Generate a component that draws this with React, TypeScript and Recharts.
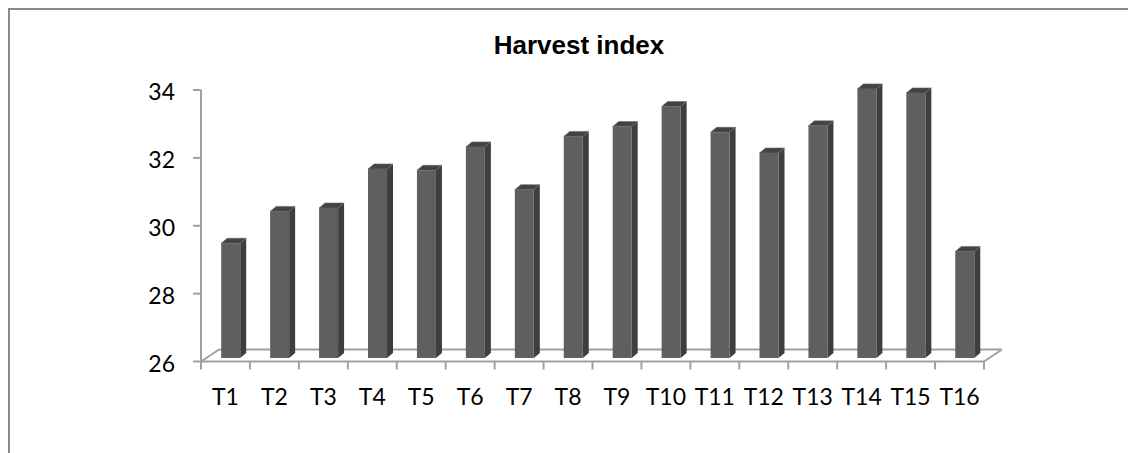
import { BarChart, Bar, XAxis, YAxis } from "recharts";

const categories = ["T1", "T2", "T3", "T4", "T5", "T6", "T7", "T8", "T9", "T10", "T11", "T12", "T13", "T14", "T15", "T16"];
const harvestIndex = [29.38, 30.32, 30.42, 31.57, 31.53, 32.22, 30.96, 32.53, 32.82, 33.41, 32.65, 32.04, 32.84, 33.93, 33.81, 29.14];
const yTicks = [26, 28, 30, 32, 34];

const data = categories.map((name, i) => ({ name, value: harvestIndex[i] }));

const W = 1128;
const H = 445;
// plot box inside the chart svg
const L = 193;
const R = 976;
const T = 82;
const B = 353.5;
const BAND = (R - L) / categories.length;

const AXIS_GREY = "#a0a0a0";
const FONT = "Lato, 'Open Sans', sans-serif";

// fake 3d column: front, right side, top
function Column3D(props: any) {
  const { x, y, width, height } = props;
  if (height == null || height <= 0) return null;
  const fx = x + 5.2;
  const fy = y - 3.5;
  const dx = 6;
  const dy = -5;
  return (
    <g>
      <polygon
        points={`${fx + width},${fy} ${fx + width + dx},${fy + dy} ${fx + width + dx},${fy + height + dy} ${fx + width},${fy + height}`}
        fill="#3e3e3e"
      />
      <polygon
        points={`${fx},${fy} ${fx + dx},${fy + dy} ${fx + width + dx},${fy + dy} ${fx + width},${fy}`}
        fill="#434343"
        stroke="#6a6a6a"
        strokeWidth={0.6}
      />
      <rect x={fx} y={fy} width={width} height={height} fill="#5f5f5f" />
    </g>
  );
}

// title and the 3d floor under the columns
function Floor() {
  const ddx = 18;
  const ddy = -12;
  const ticks = Array.from({ length: categories.length + 1 }, (_, i) => L + i * BAND);
  return (
    <svg width={W} height={H} style={{ position: "absolute", left: 0, top: 0 }}>
      <text
        x={571}
        y={46}
        textAnchor="middle"
        fontFamily="'Liberation Sans', Arial, sans-serif"
        fontWeight="bold"
        fontSize={26}
        fill="#000"
      >
        Harvest index
      </text>
      <g stroke={AXIS_GREY} strokeWidth={2} fill="none">
        <line x1={L} y1={B} x2={R} y2={B} />
        <line x1={L + ddx} y1={B + ddy} x2={R + ddx} y2={B + ddy} />
        <line x1={L} y1={B} x2={L + ddx} y2={B + ddy} />
        <line x1={R} y1={B} x2={R + ddx} y2={B + ddy} />
        {ticks.map((tx) => (
          <line key={tx} x1={tx} y1={B} x2={tx} y2={B + 8} />
        ))}
      </g>
    </svg>
  );
}

export default function App() {
  return (
    <div style={{ position: "relative", width: W, height: H }}>
      <style>{"html,body{overflow:hidden}"}</style>
      <div
        style={{
          position: "absolute",
          left: 0,
          top: 0,
          width: W,
          height: H,
          borderTop: "2px solid #8a8a8a",
          borderLeft: "2px solid #8a8a8a",
          boxSizing: "border-box",
        }}
      />
      <Floor />
      <div style={{ position: "absolute", left: 0, top: 0 }}>
        <BarChart
          width={W}
          height={H}
          data={data}
          margin={{ top: T, right: W - R, bottom: H - B - 50, left: L - 80 }}
        >
          <XAxis
            dataKey="name"
            height={50}
            axisLine={false}
            tickLine={false}
            tickSize={8}
            tickMargin={19}
            interval={0}
            tick={{ fill: "#000", fontSize: 23, fontFamily: FONT }}
          />
          <YAxis
            width={80}
            domain={[26, 34]}
            ticks={yTicks}
            axisLine={{ stroke: AXIS_GREY, strokeWidth: 2 }}
            tickLine={{ stroke: AXIS_GREY, strokeWidth: 2 }}
            tickSize={8}
            tickMargin={18}
            tick={{ fill: "#000", fontSize: 23, fontFamily: FONT, dy: 2 }}
          />
          <Bar dataKey="value" barSize={19} shape={Column3D} isAnimationActive={false} />
        </BarChart>
      </div>
    </div>
  );
}
